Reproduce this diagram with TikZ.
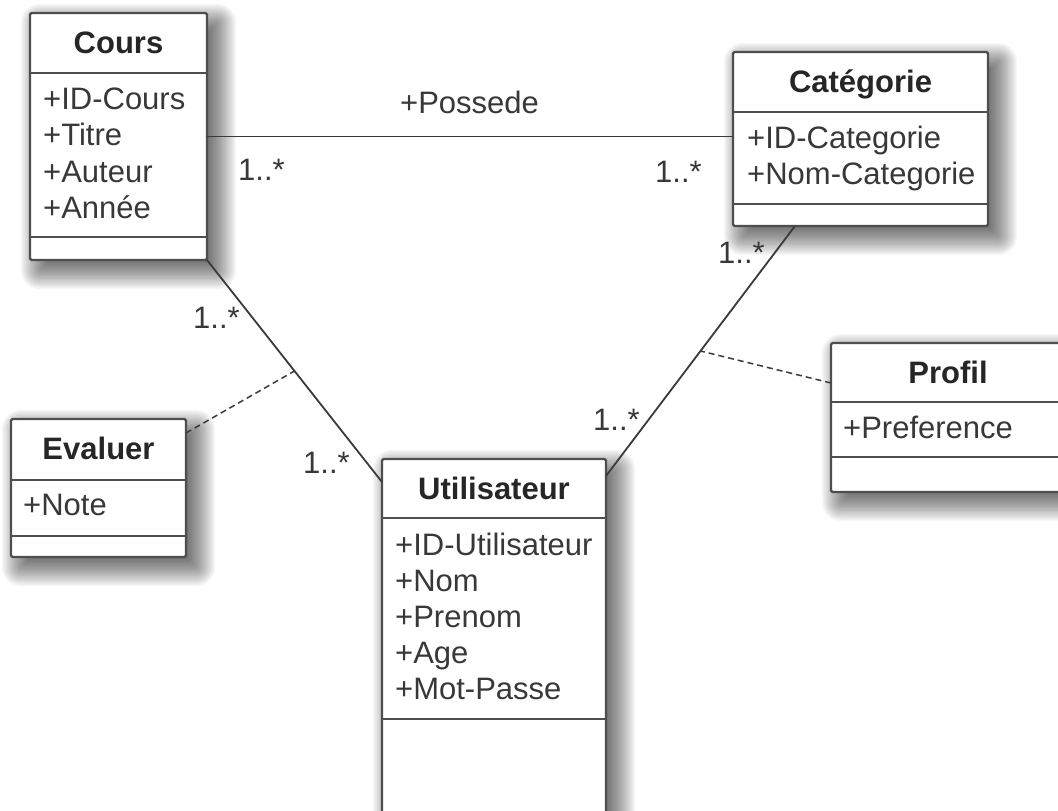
\documentclass[tikz,border=0pt]{standalone}
\usepackage{fontspec}
\setmainfont{Liberation Sans}

\pgfdeclarelayer{bg}
\pgfsetlayers{bg,main}

\definecolor{boxline}{HTML}{4E4E4E}
\definecolor{textc}{HTML}{383838}
\definecolor{titlec}{HTML}{262626}
\definecolor{linec}{HTML}{3A3A3A}

\newcommand\umlfont{\fontsize{31}{36.5}\selectfont}

\tikzset{
  classbox/.style={draw=boxline, line width=2.4pt, fill=white,
    rounded corners=1.5pt, anchor=north west, inner sep=0pt, outer sep=0pt},
  shadowlayer/.style={fill=black, opacity=0.03},
  divider/.style={draw=boxline, line width=2.4pt},
  classtitle/.style={font=\umlfont\bfseries, text=titlec, anchor=base, inner sep=0pt},
  attr/.style={font=\umlfont, text=textc, anchor=base west, inner sep=0pt},
  mult/.style={font=\umlfont, text=textc, anchor=base west, inner sep=0pt},
  assoc/.style={draw=linec, line width=1.8pt},
  link/.style={draw=linec, line width=1.5pt, dash pattern=on 6pt off 4pt}
}

\begin{document}
\begin{tikzpicture}[x=1pt, y=-1pt]
  \useasboundingbox (0,0) rectangle (1058,811);
  \clip (0,0) rectangle (1058,811);

  % class boxes
  \node[classbox, minimum width=177pt, minimum height=247pt] (cours) at (30,13) {};
  \node[classbox, minimum width=255pt, minimum height=174pt] (cat) at (733,52) {};
  \node[classbox, minimum width=175pt, minimum height=138pt] (eval) at (11,419) {};
  \node[classbox, minimum width=224pt, minimum height=400pt] (util) at (382,459) {};
  \node[classbox, minimum width=234pt, minimum height=149pt] (prof) at (831,343) {};

  % soft drop shadows: stacked translucent rectangles, offset down-right
  \begin{pgfonlayer}{bg}
    \fill[white] (0,0) rectangle (1058,811);
    \foreach \n in {cours,cat,eval,util,prof}
      \foreach \k in {0,...,24} {
        \pgfmathsetmacro\e{-12+1.3*\k}
        \pgfmathsetmacro\r{max(2,\e)}
        \fill[shadowlayer, rounded corners=\r pt]
          ([xshift={10pt-\e pt}, yshift={-10pt+\e pt}]\n.north west) rectangle
          ([xshift={10pt+\e pt}, yshift={-10pt-\e pt}]\n.south east);
      }
  \end{pgfonlayer}

  % compartment separators
  \draw[divider] ([yshift=-60pt]cours.north west) -- ([yshift=-60pt]cours.north east);
  \draw[divider] ([yshift=-224pt]cours.north west) -- ([yshift=-224pt]cours.north east);
  \draw[divider] ([yshift=-60pt]cat.north west) -- ([yshift=-60pt]cat.north east);
  \draw[divider] ([yshift=-152pt]cat.north west) -- ([yshift=-152pt]cat.north east);
  \draw[divider] ([yshift=-61pt]eval.north west) -- ([yshift=-61pt]eval.north east);
  \draw[divider] ([yshift=-117pt]eval.north west) -- ([yshift=-117pt]eval.north east);
  \draw[divider] ([yshift=-59pt]util.north west) -- ([yshift=-59pt]util.north east);
  \draw[divider] ([yshift=-260pt]util.north west) -- ([yshift=-260pt]util.north east);
  \draw[divider] ([yshift=-59pt]prof.north west) -- ([yshift=-59pt]prof.north east);
  \draw[divider] ([yshift=-114pt]prof.north west) -- ([yshift=-114pt]prof.north east);

  % class names
  \node[classtitle] (cours-t) at ([yshift=-40pt]cours.north) {Cours};
  \node[classtitle] (cat-t) at ([yshift=-40pt]cat.north) {Catégorie};
  \node[classtitle] (eval-t) at ([yshift=-40pt]eval.north) {Evaluer};
  \node[classtitle] (util-t) at ([yshift=-40pt]util.north) {Utilisateur};
  \node[classtitle] (prof-t) at ([yshift=-40pt]prof.north) {Profil};

  % attributes
  \foreach \a [count=\i] in {+ID-Cours,+Titre,+Auteur,+Année}
    \node[attr] (cours-a\i) at ([xshift=13pt, yshift={-96pt-(\i-1)*36.5pt}]cours.north west) {\a};
  \foreach \a [count=\i] in {+ID-Categorie,+Nom-Categorie}
    \node[attr] (cat-a\i) at ([xshift=14pt, yshift={-96pt-(\i-1)*36.5pt}]cat.north west) {\a};
  \node[attr] (eval-a1) at ([xshift=12pt, yshift=-96pt]eval.north west) {+Note};
  \foreach \a [count=\i] in {+ID-Utilisateur,+Nom,+Prenom,+Age,+Mot-Passe}
    \node[attr] (util-a\i) at ([xshift=13pt, yshift={-96pt-(\i-1)*36.2pt}]util.north west) {\a};
  \node[attr] (prof-a1) at ([xshift=12pt, yshift=-95pt]prof.north west) {+Preference};

  % associations
  \draw[assoc] (cours.east) -- (cours.east -| cat.west);
  \draw[assoc] (cours.south east) -- coordinate (cu-mid) ([yshift=-23pt]util.north west);
  \draw[assoc] ([xshift=62pt]cat.south west) -- coordinate (ku-mid) ([yshift=-17pt]util.north east);

  % association classes
  \draw[link] ([yshift=-14pt]eval.north east) -- (cu-mid);
  \draw[link] ([yshift=-40pt]prof.north west) -- (ku-mid);

  % labels
  \node[mult] (possede) at (400,113) {+Possede};
  \node[mult] (m1) at (238,180) {1..*};
  \node[mult] (m2) at (655,182) {1..*};
  \node[mult] (m3) at (718,263) {1..*};
  \node[mult] (m4) at (193,328) {1..*};
  \node[mult] (m5) at (303,473) {1..*};
  \node[mult] (m6) at (593,430) {1..*};
\end{tikzpicture}
\end{document}
